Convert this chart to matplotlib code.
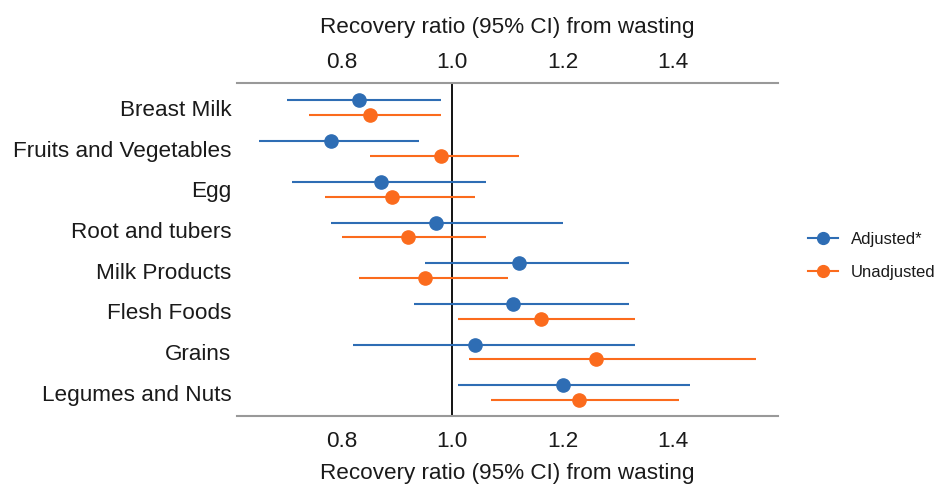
import matplotlib
matplotlib.use("Agg")
import matplotlib.pyplot as plt
import numpy as np

plt.rcParams['font.family'] = ['Liberation Sans', 'DejaVu Sans']

foods = ['Breast Milk', 'Fruits and Vegetables', 'Egg', 'Root and tubers',
         'Milk Products', 'Flesh Foods', 'Grains', 'Legumes and Nuts']

adj_est = [0.83, 0.78, 0.87, 0.97, 1.12, 1.11, 1.04, 1.20]
adj_lo = [0.70, 0.65, 0.71, 0.78, 0.95, 0.93, 0.82, 1.01]
adj_hi = [0.98, 0.94, 1.06, 1.20, 1.32, 1.32, 1.33, 1.43]

unadj_est = [0.85, 0.98, 0.89, 0.92, 0.95, 1.16, 1.26, 1.23]
unadj_lo = [0.74, 0.85, 0.77, 0.80, 0.83, 1.01, 1.03, 1.07]
unadj_hi = [0.98, 1.12, 1.04, 1.06, 1.10, 1.33, 1.55, 1.41]

ticks = [0.8, 1.0, 1.2, 1.4]
tick_labels = ['0.8', '1.0', '1.2', '1.4']

blue = '#2e6db4'
orange = '#fb6b1d'
txt = '#1a1a1a'
fs = 16.2
xlab = 'Recovery ratio (95% CI) from wasting'

fig = plt.figure(figsize=(9.38, 4.88), dpi=100)
ax = fig.add_axes([0.2527, 0.1475, 0.577, 0.6825])

y = np.arange(len(foods))
off = 0.18

ax.axvline(1.0, color='black', lw=1.3, zorder=1)

ax.hlines(y - off, adj_lo, adj_hi, color=blue, lw=1.5, zorder=2)
ax.plot(adj_est, y - off, 'o', color=blue, ms=9.5, zorder=3)
ax.hlines(y + off, unadj_lo, unadj_hi, color=orange, lw=1.5, zorder=2)
ax.plot(unadj_est, y + off, 'o', color=orange, ms=9.5, zorder=3)

# legend proxies: line through marker
ax.plot([], [], '-o', color=blue, lw=1.5, ms=8.5, label='Adjusted*')
ax.plot([], [], '-o', color=orange, lw=1.5, ms=8.5, label='Unadjusted')

ax.set_xlim(0.61, 1.59)
ax.set_ylim(len(foods) - 1 + 0.57, -0.61)

ax.set_yticks(y)
ax.set_yticklabels(foods, fontsize=fs)
ax.set_xticks(ticks)
ax.set_xticklabels(tick_labels)
ax.tick_params(axis='x', length=0, labelsize=fs, pad=11, colors=txt)
ax.tick_params(axis='y', length=0, pad=4, colors=txt)
ax.set_xlabel(xlab, fontsize=fs, color=txt, labelpad=8)

top = ax.secondary_xaxis('top')
top.set_xticks(ticks)
top.set_xticklabels(tick_labels)
top.tick_params(length=0, labelsize=fs, pad=7.5, colors=txt)
top.set_xlabel(xlab, fontsize=fs, color=txt, labelpad=13)
top.spines['top'].set_visible(False)

for s in ['left', 'right']:
    ax.spines[s].set_visible(False)
for s in ['top', 'bottom']:
    ax.spines[s].set_color('#999999')
    ax.spines[s].set_linewidth(1.5)

leg = ax.legend(loc='center left', bbox_to_anchor=(1.005, 0.48), frameon=False,
                fontsize=12, handlelength=1.8, handletextpad=0.8, labelspacing=1.1,
                borderaxespad=1.2)
for t in leg.get_texts():
    t.set_color(txt)

fig.savefig('out.png', dpi=100)
